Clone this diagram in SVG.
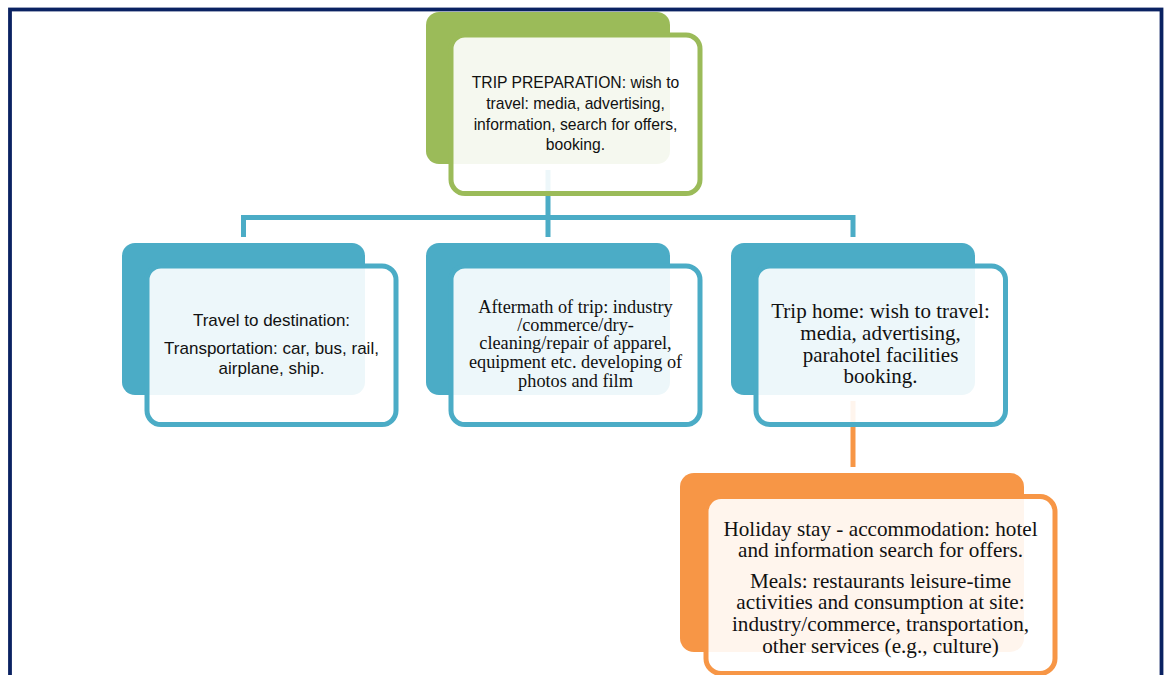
<svg xmlns="http://www.w3.org/2000/svg" width="1166" height="675" viewBox="0 0 1166 675">
<style>
.frame{fill:#fff;stroke:#0a2262;stroke-width:3.8}
.conn{fill:none;stroke-width:5}
.cb{stroke:#4bacc6}
.co{stroke:#f79646}
.back{stroke:none}
.front{fill:#fff;fill-opacity:0.9;stroke-width:5}
.g .back{fill:#9bbb59}.g .front{stroke:#9bbb59}
.b .back{fill:#4bacc6}.b .front{stroke:#4bacc6}
.o .back{fill:#f79646}.o .front{stroke:#f79646}
.sans{font-family:"Liberation Sans",Arial,sans-serif;fill:#111;text-anchor:middle}
.serif{font-family:"Liberation Serif","Times New Roman",serif;fill:#111;text-anchor:middle}
</style>
<rect class="frame" x="10" y="9.5" width="1151.5" height="720"/>
<g id="connectors">
<path class="conn cb" d="M548 170V217.5M243.5 237V217.5H853V237M548 217.5V237"/>
<path class="conn co" d="M853 401V467"/>
</g>
<g id="node-trip-preparation" class="g">
<rect class="back" x="426" y="12" width="244" height="152" rx="13"/>
<rect class="front" x="451" y="35" width="249" height="158.5" rx="14"/>
<text class="sans" font-size="15.7"><tspan x="575.5" y="88.3">TRIP PREPARATION: wish to</tspan><tspan x="575.5" y="109">travel: media, advertising,</tspan><tspan x="575.5" y="129.5">information, search for offers,</tspan><tspan x="575.5" y="150">booking.</tspan></text>
</g>
<g id="node-travel-destination" class="b">
<rect class="back" x="122" y="243" width="243" height="152" rx="13"/>
<rect class="front" x="147" y="266" width="249" height="158.5" rx="14"/>
<text class="sans" font-size="17"><tspan x="271.5" y="326">Travel to destination:</tspan><tspan x="271.5" y="354">Transportation: car, bus, rail,</tspan><tspan x="271.5" y="374">airplane, ship.</tspan></text>
</g>
<g id="node-aftermath" class="b">
<rect class="back" x="426" y="243" width="244" height="152" rx="13"/>
<rect class="front" x="451" y="266" width="249" height="158.5" rx="14"/>
<text class="serif" font-size="18.3"><tspan x="575.5" y="312.7">Aftermath of trip: industry</tspan><tspan x="575.5" y="331">/commerce/dry-</tspan><tspan x="575.5" y="349.3">cleaning/repair of apparel,</tspan><tspan x="575.5" y="368">equipment etc. developing of</tspan><tspan x="575.5" y="386.7">photos and film</tspan></text>
</g>
<g id="node-trip-home" class="b">
<rect class="back" x="731" y="243" width="244" height="152" rx="13"/>
<rect class="front" x="756" y="266" width="249.5" height="158.5" rx="14"/>
<text class="serif" font-size="21"><tspan x="880.5" y="318.3">Trip home: wish to travel:</tspan><tspan x="880.5" y="340">media, advertising,</tspan><tspan x="880.5" y="361.7">parahotel facilities</tspan><tspan x="880.5" y="382.7">booking.</tspan></text>
</g>
<g id="node-holiday-stay" class="o">
<rect class="back" x="680" y="473" width="344" height="179" rx="14"/>
<rect class="front" x="706" y="496.5" width="349" height="177" rx="15"/>
<text class="serif" font-size="21.2"><tspan x="880.5" y="536">Holiday stay - accommodation: hotel</tspan><tspan x="880.5" y="557.3">and information search for offers.</tspan><tspan x="880.5" y="588.3">Meals: restaurants leisure-time</tspan><tspan x="880.5" y="609.3">activities and consumption at site:</tspan><tspan x="880.5" y="630.5">industry/commerce, transportation,</tspan><tspan x="880.5" y="652.5">other services (e.g., culture)</tspan></text>
</g>
</svg>
